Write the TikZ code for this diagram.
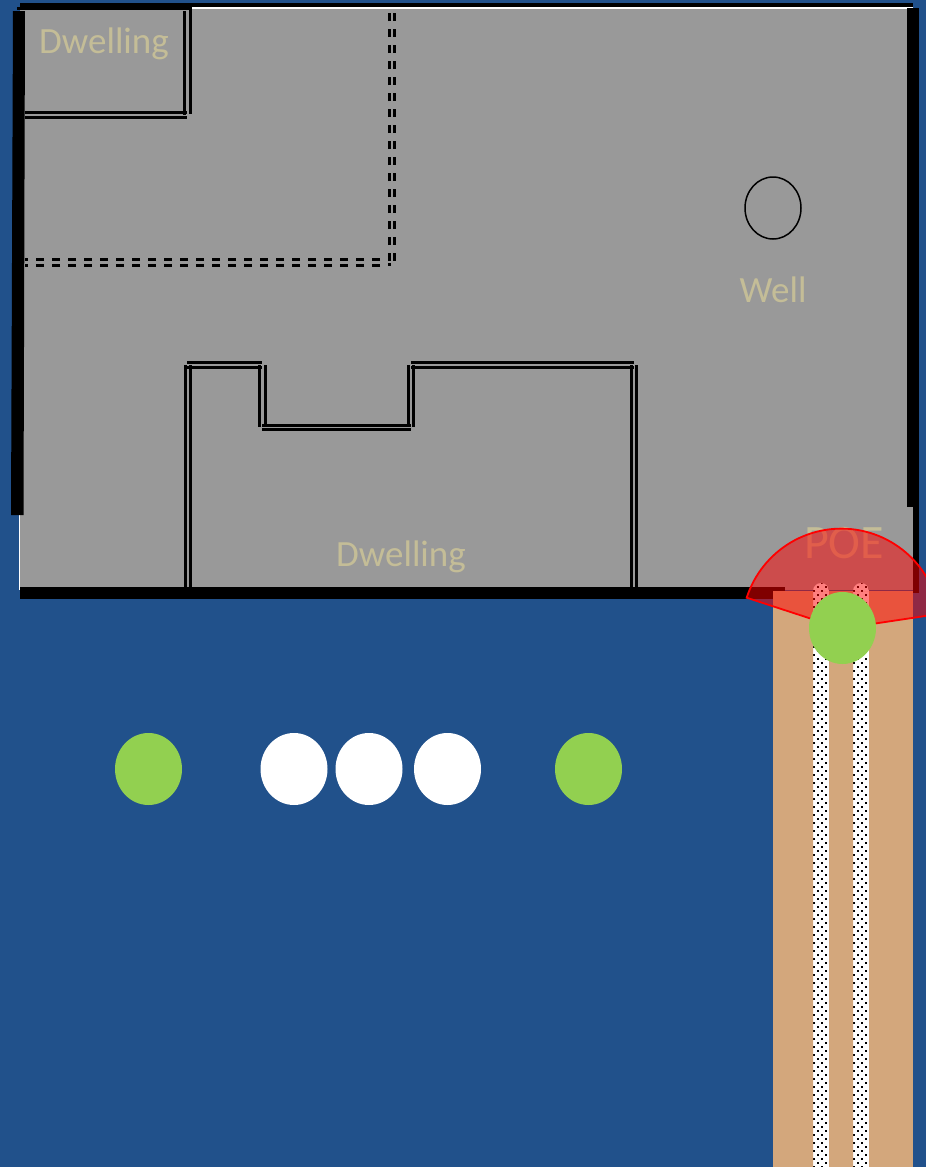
\documentclass[tikz,border=0pt]{standalone}
\usepackage{fontspec}
\usetikzlibrary{shapes.geometric}
\setmainfont{Carlito}
\definecolor{bgblue}{RGB}{33,81,139}
\definecolor{yardgray}{RGB}{153,153,153}
\definecolor{roadtan}{RGB}{211,167,124}
\definecolor{labeltan}{RGB}{196,189,151}
\definecolor{dotgreen}{RGB}{146,208,80}
\tikzset{
  wall/.style={fill=black,draw=none},
  fencea/.style={draw=black,line width=3pt},
  fenced/.style={draw=black,line width=3pt,dash pattern=on 8pt off 8pt},
  person/.style={fill=#1,draw=none},
  lbl/.style={text=labeltan,font=\fontsize{37}{37}\selectfont,inner sep=0pt},
}
\begin{document}
\begin{tikzpicture}[x=1pt,y=-1pt]
\useasboundingbox (0,0) rectangle (926,1167);
\clip (0,0) rectangle (926,1167);
\fill[bgblue] (0,0) rectangle (926,1167);
% walls below yard
\fill[white] (19,515) rectangle (21,590);
\fill[wall] (913,8) rectangle (919,593);
\fill[wall] (20,2.5) rectangle (913,7);
\fill[white] (192,7) rectangle (913,8.5);
\fill[yardgray] (20,8.5) rectangle (913,590);
\fill[wall] (907,8) rectangle (919,507);
\fill[wall] (20,587) rectangle (785,599);
\fill[wall] (13,11) -- (25,11) -- (23.5,515) -- (11,515) -- cycle;
% top left dwelling
\draw[fencea] (17,8) -- (192,8);
\draw[fencea] (25,112) -- (187,112);
\draw[fencea] (25,117) -- (187,117);
\draw[fencea] (184.5,11) -- (184.5,115);
\draw[fencea] (190.5,9) -- (190.5,114);
% dashed enclosure
\draw[fenced] (389.5,261) -- (389.5,12);
\draw[fenced] (394.5,260.5) -- (394.5,12);
\draw[draw=black,line width=3pt] (389.5,263) -- (389.5,266);
\draw[fenced] (380,259.5) -- (25,259.5);
\draw[fenced] (380,265) -- (25,265);
% lower dwelling
\draw[fencea] (185,365) -- (185,587);
\draw[fencea] (190,365) -- (190,587);
\draw[fencea] (187,362) -- (262,362);
\draw[fencea] (187,367.5) -- (262,367.5);
\draw[fencea] (259.5,365) -- (259.5,427);
\draw[fencea] (265,365) -- (265,425);
\draw[fencea] (262,425) -- (411,425);
\draw[fencea] (262,429.5) -- (411,429.5);
\draw[fencea] (408,365) -- (408,427);
\draw[fencea] (413,365) -- (413,427);
\draw[fencea] (411,362) -- (634,362);
\draw[fencea] (411,367.5) -- (634,367.5);
\draw[fencea] (631,365) -- (631,587);
\draw[fencea] (636,365) -- (636,587);
% well
\node[draw=black,line width=1.5pt,ellipse,minimum width=56pt,minimum height=62pt,inner sep=0pt] (well) at (773,208) {};
\node[lbl] (dw1) at (104,44) {Dwelling};
\node[lbl] (dw2) at (401,557) {Dwelling};
\node[lbl] (wl) at (773,290) {Well};
\node[lbl,font=\fontsize{48}{48}\selectfont] (poe) at (844,543) {POE};
% road
\foreach \sx in {813,853}{
  \begin{scope}
    \clip (\sx,1167) -- (\sx,591) arc[start angle=180,end angle=360,radius=8] -- (\sx+16,1167) -- cycle;
    \fill[white] (\sx,580) rectangle (\sx+16,1167);
    \foreach \r in {0,...,146}{
      \pgfmathsetmacro{\yy}{582+4*\r}
      \pgfmathsetmacro{\off}{mod(\r,2)*4}
      \foreach \c in {0,1,2}{
        \fill[black] ({\sx+\off+8*\c},\yy) rectangle ({\sx+\off+8*\c+2},\yy+2);
      }
    }
  \end{scope}
}
\begin{scope}[even odd rule]
  \clip (773,591) rectangle (913,1167) (813,583) rectangle (829,1167) (853,583) rectangle (869,1167);
  \fill[roadtan] (773,591) rectangle (913,1167);
\end{scope}
% red sector
\fill[red,fill opacity=.5] (841.3,628.6) -- plot[domain=162:8.5,samples=60] ({841.3+99.5*cos(\x)},{628.6-100*sin(\x)}) -- cycle;
\draw[red,line width=1.8pt] (841.3,628.6) -- plot[domain=162:8.5,samples=60] ({841.3+99.5*cos(\x)},{628.6-100*sin(\x)}) -- cycle;
% people
\fill[person=dotgreen] (842.5,628) ellipse[x radius=33.5,y radius=36];
\fill[person=dotgreen] (148.5,769) ellipse[x radius=33.5,y radius=36];
\fill[person=white] (294,769) ellipse[x radius=33.5,y radius=36];
\fill[person=white] (369,769) ellipse[x radius=33.5,y radius=36];
\fill[person=white] (447.5,769) ellipse[x radius=33.5,y radius=36];
\fill[person=dotgreen] (588.5,769) ellipse[x radius=33.5,y radius=36];
\end{tikzpicture}
\end{document}
